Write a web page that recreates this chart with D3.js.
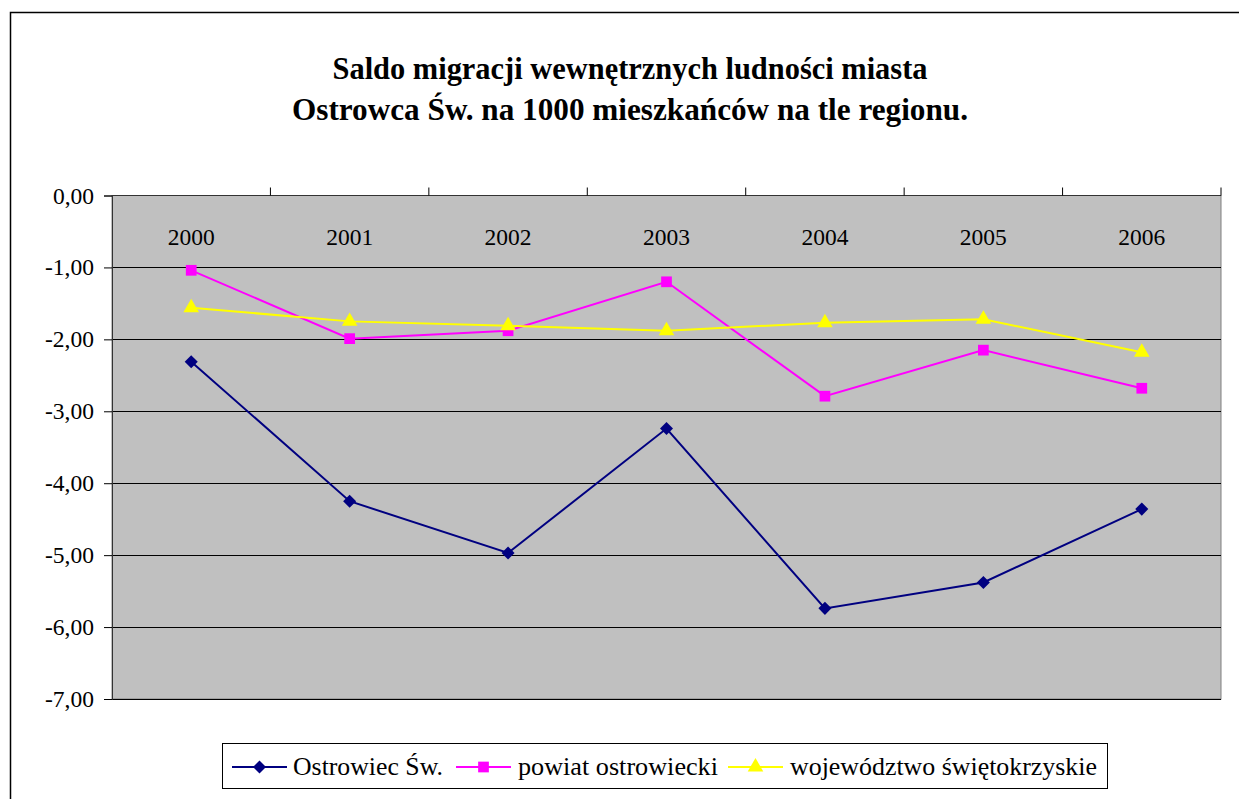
<!DOCTYPE html>
<html>
<head>
<meta charset="utf-8">
<script src="https://cdn.jsdelivr.net/npm/d3@7"></script>
<style>
  body { margin: 0; background: #fff; }
</style>
</head>
<body>
<div id="chart"></div>
<script>
/* CONSTANTS AND GLOBALS */
const width = 1239,
  height = 799,
  margin = { top: 195.5, bottom: 100, left: 112, right: 18 },
  serif = "'Liberation Serif', 'Times New Roman', serif";

// data
const years = ["2000", "2001", "2002", "2003", "2004", "2005", "2006"];
const ostrowiec = [-2.31, -4.25, -4.97, -3.24, -5.74, -5.38, -4.36];
const powiat = [-1.04, -1.99, -1.88, -1.20, -2.79, -2.15, -2.68];
const wojewodztwo = [-1.56, -1.75, -1.81, -1.88, -1.77, -1.72, -2.18];
const seriesNames = ["Ostrowiec Św.", "powiat ostrowiecki", "województwo świętokrzyskie"];
const yTicks = [0, -1, -2, -3, -4, -5, -6, -7];
const titleLines = ["Saldo migracji wewnętrznych ludności miasta", "Ostrowca Św. na 1000 mieszkańców na tle regionu."];

// diamond = square turned 45 degrees (Excel style)
const series = [
  { name: seriesNames[0], values: ostrowiec, color: "#000080", symbol: d3.symbolSquare, size: 85, rotate: 45 },
  { name: seriesNames[1], values: powiat, color: "#FF00FF", symbol: d3.symbolSquare, size: 115, rotate: 0 },
  { name: seriesNames[2], values: wojewodztwo, color: "#FFFF00", symbol: d3.symbolTriangle, size: 105, rotate: 0 }
];

const plLocale = d3.formatLocale({ decimal: ",", thousands: " ", grouping: [3], currency: ["", " zł"], minus: "-" });
const fmt = plLocale.format(".2f");

const svg = d3.select("#chart").append("svg")
  .attr("width", width)
  .attr("height", height)
  .style("font-family", serif);

// outer chart frame (runs off the right and bottom edge)
svg.append("rect")
  .attr("x", 10.5).attr("y", 12.5)
  .attr("width", 1240).attr("height", 800)
  .attr("fill", "#fff").attr("stroke", "#000").attr("stroke-width", 1.5);

// title
svg.append("g").selectAll("text")
  .data(titleLines)
  .join("text")
  .attr("x", 630)
  .attr("y", (d, i) => 79 + i * 41)
  .attr("text-anchor", "middle")
  .style("font-family", serif)
  .attr("font-size", 31)
  .attr("font-weight", "bold")
  .attr("textLength", (d, i) => i === 0 ? 595 : 676)
  .attr("lengthAdjust", "spacingAndGlyphs")
  .text(d => d);

/* SCALES */
const xScale = d3.scaleBand()
  .domain(years)
  .range([margin.left, width - margin.right]);

const yScale = d3.scaleLinear()
  .domain([-7, 0])
  .range([height - margin.bottom, margin.top]);

// plot area
svg.append("rect")
  .attr("x", margin.left).attr("y", margin.top)
  .attr("width", width - margin.right - margin.left)
  .attr("height", yScale(-7) - margin.top)
  .attr("fill", "#C0C0C0")
  .attr("stroke", "#808080");

// gridlines
svg.append("g").selectAll("line")
  .data(yTicks.filter(d => d !== 0))
  .join("line")
  .attr("x1", margin.left).attr("x2", width - margin.right)
  .attr("y1", d => Math.round(yScale(d)) + 0.5).attr("y2", d => Math.round(yScale(d)) + 0.5)
  .attr("stroke", "#000");

/* AXES */
const yAxis = d3.axisLeft(yScale)
  .tickValues(yTicks)
  .tickFormat(fmt)
  .tickSize(8)
  .tickPadding(10);

svg.append("g")
  .attr("transform", `translate(${margin.left},0)`)
  .call(yAxis)
  .call(g => g.select(".domain").attr("stroke", "#333"))
  .call(g => g.selectAll("text").attr("font-size", 23.5).style("font-family", serif).attr("fill", "#000"));

// x axis sits along the top (value 0), tick marks between categories
const xAxisG = svg.append("g")
  .attr("transform", `translate(0,${yScale(0)})`);
xAxisG.append("line")
  .attr("x1", margin.left).attr("x2", width - margin.right)
  .attr("stroke", "#333");
xAxisG.selectAll("line.tick")
  .data(years.slice(1).concat(["end"]))
  .join("line")
  .attr("class", "tick")
  .attr("x1", (d, i) => margin.left + xScale.step() * (i + 1))
  .attr("x2", (d, i) => margin.left + xScale.step() * (i + 1))
  .attr("y1", -8).attr("y2", 0)
  .attr("stroke", "#000");
xAxisG.selectAll("text")
  .data(years)
  .join("text")
  .attr("x", d => xScale(d) + xScale.bandwidth() / 2)
  .attr("y", 49)
  .attr("text-anchor", "middle")
  .style("font-family", serif)
  .attr("font-size", 23.5)
  .text(d => d);

/* LINES AND MARKERS */
const lineFunc = d3.line()
  .x((d, i) => xScale(years[i]) + xScale.bandwidth() / 2)
  .y(d => yScale(d));

const seriesG = svg.append("g").selectAll("g")
  .data(series)
  .join("g");

seriesG.append("path")
  .attr("d", d => lineFunc(d.values))
  .attr("fill", "none")
  .attr("stroke", d => d.color)
  .attr("stroke-width", 2);

seriesG.each(function (s) {
  d3.select(this).selectAll("path.marker")
    .data(s.values)
    .join("path")
    .attr("class", "marker")
    .attr("transform", (d, i) => `translate(${xScale(years[i]) + xScale.bandwidth() / 2},${yScale(d)}) rotate(${s.rotate})`)
    .attr("d", d3.symbol(s.symbol, s.size))
    .attr("fill", s.color);
});

/* LEGEND */
const legend = svg.append("g");
legend.append("rect")
  .attr("x", 222.5).attr("y", 743.5)
  .attr("width", 885).attr("height", 45)
  .attr("fill", "#fff").attr("stroke", "#000");

const legendX = [232, 456, 728];
const legendW = [150, 200, 307];
const item = legend.selectAll("g")
  .data(series)
  .join("g")
  .attr("transform", (d, i) => `translate(${legendX[i]},767)`);
item.append("line")
  .attr("x1", 0).attr("x2", 55)
  .attr("stroke", d => d.color).attr("stroke-width", 2);
item.append("path")
  .attr("transform", d => `translate(27.5,0) rotate(${d.rotate})`)
  .attr("d", d => d3.symbol(d.symbol, d.size)())
  .attr("fill", d => d.color);
item.append("text")
  .attr("x", (d, i) => i === 0 ? 61 : 62)
  .attr("y", 8)
  .style("font-family", serif)
  .attr("font-size", 26)
  .attr("textLength", (d, i) => legendW[i])
  .attr("lengthAdjust", "spacingAndGlyphs")
  .text(d => d.name);
</script>
</body>
</html>
